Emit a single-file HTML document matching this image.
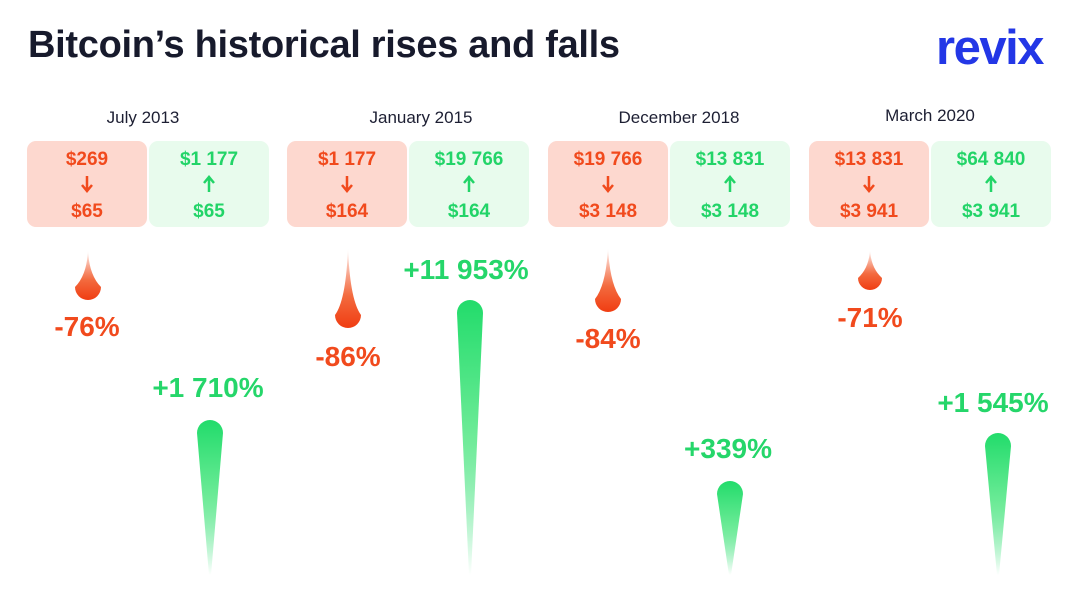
<!DOCTYPE html>
<html><head><meta charset="utf-8"><style>
body{margin:0;width:1078px;height:602px;background:#fff;position:relative;overflow:hidden;font-family:"Liberation Sans",sans-serif}
.a{position:absolute}
.t{font-size:38px;font-weight:bold;color:#171a2c;left:28px;top:24px;letter-spacing:-0.3px}
.logo{font-size:49px;font-weight:bold;color:#2337e6;left:936px;top:20px;letter-spacing:-1.5px}
.d{font-size:17px;color:#1d1f33;width:240px;text-align:center}
.box{width:120px;height:86px;border-radius:9px;text-align:center;font-weight:bold;font-size:19px}
.r{background:#fdd8cf;color:#f14a1d}.g{background:#e8fbed;color:#22d468}
.box div{position:absolute;left:0;right:0}
.box svg{position:absolute;left:53px;top:34px}
.p{font-weight:bold;font-size:28px;width:180px;text-align:center}
.pr{color:#f14a1d}.pg{color:#25d66a}
</style></head><body>
<div class="a t">Bitcoin’s historical rises and falls</div>
<div class="a logo">revix</div>

<div class="a d" style="left:23px;top:108px">July 2013</div>
<div class="a d" style="left:301px;top:108px">January 2015</div>
<div class="a d" style="left:559px;top:108px">December 2018</div>
<div class="a d" style="left:810px;top:106px">March 2020</div>

<div class="a box r" style="left:27px;top:141px"><div style="top:8px">$269</div><svg width="14" height="18"><path d="M7,1V15M2,10L7,16L12,10" stroke="#f14a1d" stroke-width="2.5" fill="none"/></svg><div style="top:60px">$65</div></div>
<div class="a box g" style="left:149px;top:141px"><div style="top:8px">$1 177</div><svg width="14" height="18"><path d="M7,17V3M2,8L7,2L12,8" stroke="#22d468" stroke-width="2.5" fill="none"/></svg><div style="top:60px">$65</div></div>
<div class="a box r" style="left:287px;top:141px"><div style="top:8px">$1 177</div><svg width="14" height="18"><path d="M7,1V15M2,10L7,16L12,10" stroke="#f14a1d" stroke-width="2.5" fill="none"/></svg><div style="top:60px">$164</div></div>
<div class="a box g" style="left:409px;top:141px"><div style="top:8px">$19 766</div><svg width="14" height="18"><path d="M7,17V3M2,8L7,2L12,8" stroke="#22d468" stroke-width="2.5" fill="none"/></svg><div style="top:60px">$164</div></div>
<div class="a box r" style="left:548px;top:141px"><div style="top:8px">$19 766</div><svg width="14" height="18"><path d="M7,1V15M2,10L7,16L12,10" stroke="#f14a1d" stroke-width="2.5" fill="none"/></svg><div style="top:60px">$3 148</div></div>
<div class="a box g" style="left:670px;top:141px"><div style="top:8px">$13 831</div><svg width="14" height="18"><path d="M7,17V3M2,8L7,2L12,8" stroke="#22d468" stroke-width="2.5" fill="none"/></svg><div style="top:60px">$3 148</div></div>
<div class="a box r" style="left:809px;top:141px"><div style="top:8px">$13 831</div><svg width="14" height="18"><path d="M7,1V15M2,10L7,16L12,10" stroke="#f14a1d" stroke-width="2.5" fill="none"/></svg><div style="top:60px">$3 941</div></div>
<div class="a box g" style="left:931px;top:141px"><div style="top:8px">$64 840</div><svg width="14" height="18"><path d="M7,17V3M2,8L7,2L12,8" stroke="#22d468" stroke-width="2.5" fill="none"/></svg><div style="top:60px">$3 941</div></div>

<svg class="a" style="left:0;top:0" width="1078" height="602">
<defs>
<linearGradient id="rg" x1="0" y1="0" x2="0" y2="1"><stop offset="0" stop-color="#f14a1d" stop-opacity="0"/><stop offset="0.6" stop-color="#f36a3e"/><stop offset="1" stop-color="#f03d12"/></linearGradient>
<linearGradient id="gg" x1="0" y1="0" x2="0" y2="1"><stop offset="0" stop-color="#22dc6b"/><stop offset="0.5" stop-color="#6eeb98"/><stop offset="1" stop-color="#22dc6b" stop-opacity="0"/></linearGradient>
</defs>
<path d="M88,250 Q89,275 101,287 A13,13 0 1 1 75,287 Q87,275 88,250Z" fill="url(#rg)"/>
<path d="M348,248 Q350,300 361,315 A13,13 0 1 1 335,315 Q346,300 348,248Z" fill="url(#rg)"/>
<path d="M608,248 Q610,285 621,299 A13,13 0 1 1 595,299 Q606,285 608,248Z" fill="url(#rg)"/>
<path d="M870,250 Q871,268 882,278 A12,12 0 1 1 858,278 Q869,268 870,250Z" fill="url(#rg)"/>
<path d="M197,433 A13,13 0 0 1 223,433 L211,575 L209,575Z" fill="url(#gg)"/>
<path d="M457,313 A13,13 0 0 1 483,313 L471,575 L469,575Z" fill="url(#gg)"/>
<path d="M717,494 A13,13 0 0 1 743,494 L731,575 L729,575Z" fill="url(#gg)"/>
<path d="M985,446 A13,13 0 0 1 1011,446 L999,575 L997,575Z" fill="url(#gg)"/>
</svg>

<div class="a p pr" style="left:-3px;top:311px">-76%</div>
<div class="a p pr" style="left:258px;top:341px">-86%</div>
<div class="a p pr" style="left:518px;top:323px">-84%</div>
<div class="a p pr" style="left:780px;top:302px">-71%</div>
<div class="a p pg" style="left:118px;top:372px">+1 710%</div>
<div class="a p pg" style="left:376px;top:254px">+11 953%</div>
<div class="a p pg" style="left:638px;top:433px">+339%</div>
<div class="a p pg" style="left:903px;top:387px">+1 545%</div>
</body></html>
